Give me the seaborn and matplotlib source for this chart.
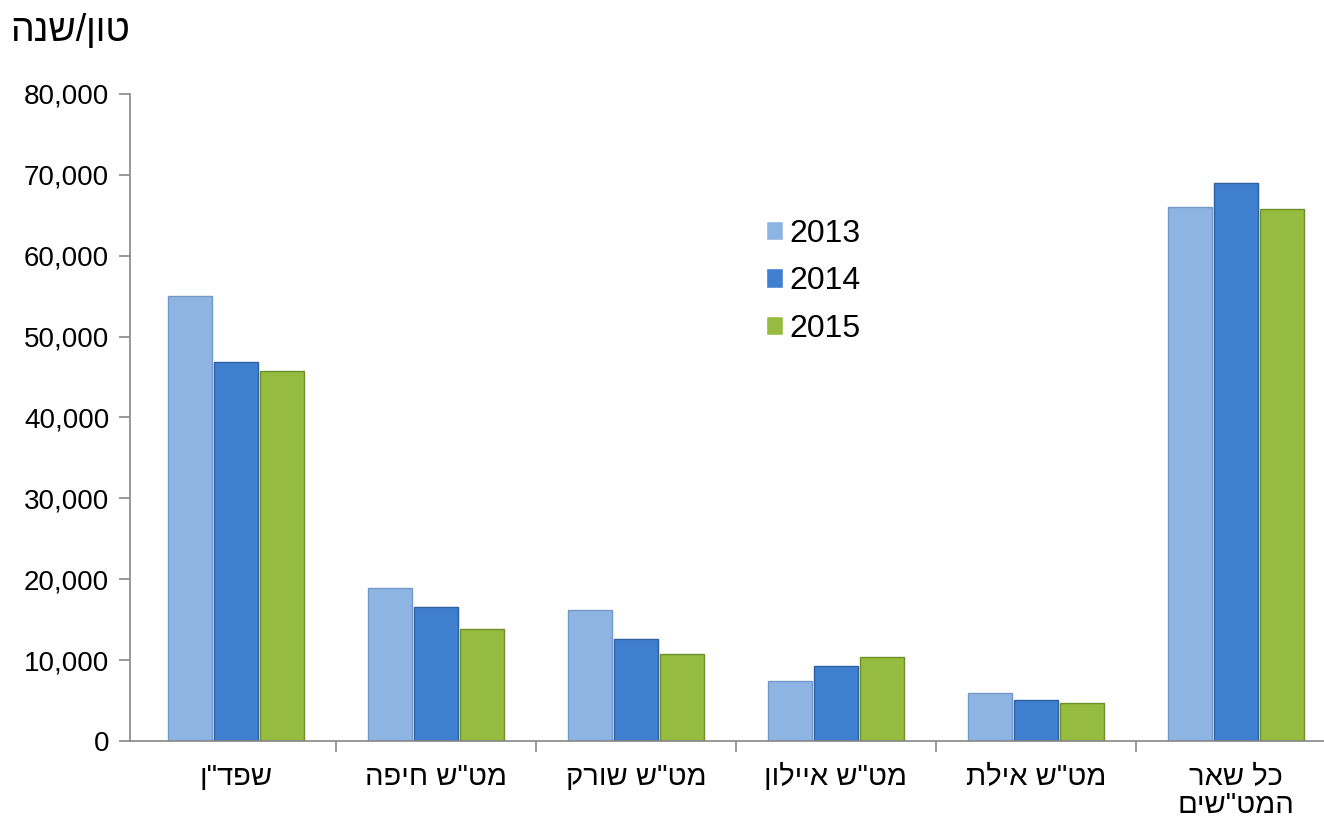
import matplotlib
matplotlib.use("Agg")
import matplotlib.pyplot as plt
import seaborn as sns
import pandas as pd
from matplotlib.ticker import FuncFormatter, MultipleLocator, FixedLocator

# Logical Hebrew strings (reversed for display since matplotlib has no bidi)
categories = ['שפד"ן', 'מט"ש חיפה', 'מט"ש שורק', 'מט"ש איילון', 'מט"ש אילת', 'כל שאר\nהמט"שים']
years = ['2013', '2014', '2015']
v2013 = [55000, 18900, 16200, 7400, 5900, 66000]
v2014 = [46900, 16600, 12600, 9300, 5100, 69000]
v2015 = [45700, 13800, 10800, 10400, 4700, 65800]
y_title = 'טון/שנה'

def vis(s):
    return "\n".join(line[::-1] for line in s.split("\n"))

rows = []
for c, a, b, d in zip(categories, v2013, v2014, v2015):
    for y, v in zip(years, (a, b, d)):
        rows.append({"cat": vis(c), "year": y, "value": v})
df = pd.DataFrame(rows)

sns.set_theme(style="white")
plt.rcParams['font.family'] = ['Liberation Sans', 'DejaVu Sans']
plt.rcParams['text.color'] = 'black'

fig = plt.figure(figsize=(13.24, 8.22), dpi=100)
ax = fig.add_axes([130/1324, 81/822, 1194/1324, 647/822])

palette = {"2013": "#8db4e2", "2014": "#3f7fcf", "2015": "#95bb3f"}
sns.barplot(data=df, x="cat", y="value", hue="year", palette=palette,
            width=0.69, gap=0.05, ax=ax, saturation=1, linewidth=1.0,
            edgecolor="#ffffff")

edges = {"2013": "#7499c8", "2014": "#2d5f9e", "2015": "#6e8f2a"}
for cont, y in zip(ax.containers, years):
    for p in cont.patches:
        p.set_edgecolor(edges[y])
        p.set_linewidth(1.0)

ax.set_xlim(-0.53, 5.44)
ax.set_ylim(0, 80000)
ax.yaxis.set_major_locator(MultipleLocator(10000))
ax.yaxis.set_major_formatter(FuncFormatter(lambda v, p: f"{int(v):,}"))
ax.set_xlabel("")
ax.set_ylabel("")

for side in ("top", "right"):
    ax.spines[side].set_visible(False)
for side in ("left", "bottom"):
    ax.spines[side].set_color("#868686")
    ax.spines[side].set_linewidth(1.2)

ax.tick_params(axis="y", which="major", direction="out", length=8, width=1.2,
               color="#868686", labelsize=20, labelcolor="black", pad=7, left=True)
ax.tick_params(axis="x", which="major", length=0, labelsize=21, labelcolor="black", pad=16)
ax.xaxis.set_minor_locator(FixedLocator([i + 0.5 for i in range(len(categories) - 1)]))
ax.tick_params(axis="x", which="minor", direction="out", length=8, width=1.2,
               color="#868686", bottom=True)
for lab in ax.get_xticklabels():
    lab.set_verticalalignment("top")
    lab.set_linespacing(1.0)

fig.text(10/1324, 1 - 31/822, vis(y_title), fontsize=27, ha="left", va="center",
         color="black")

leg = ax.legend(loc="upper left", bbox_to_anchor=(753/1324, 1 - 206/822),
                bbox_transform=fig.transFigure, frameon=False, fontsize=23,
                handlelength=0.55, handleheight=0.55, handletextpad=0.2,
                labelspacing=0.55, borderaxespad=0)
for t in leg.get_texts():
    t.set_color("black")

fig.savefig("out.png", dpi=100)
